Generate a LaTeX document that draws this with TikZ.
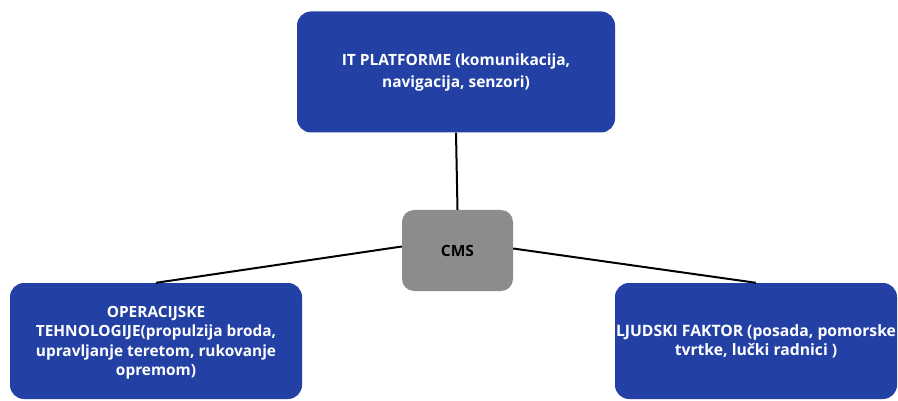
\documentclass[tikz,border=0pt]{standalone}
\usepackage{fontspec}
\setmainfont{Open Sans}
\definecolor{boxblue}{HTML}{2341A5}
\definecolor{boxgray}{HTML}{8C8C8C}
\begin{document}
\begin{tikzpicture}[x=1pt,y=-1pt,
  bluebox/.style={draw=none,fill=boxblue,rounded corners=14pt,text=white,
    font=\fontsize{15.4}{19.3}\selectfont\bfseries,align=center,inner sep=0pt},
  graybox/.style={draw=none,fill=boxgray,rounded corners=12pt,text=black,
    font=\fontsize{15.5}{19}\selectfont\bfseries,align=center,inner sep=0pt},
  link/.style={draw=black,line width=2pt}]
\useasboundingbox (0,0) rectangle (898,401);
\node[bluebox,minimum width=318pt,minimum height=121pt,font=\fontsize{15.5}{22}\selectfont\bfseries] (it) at (456,72)
  {IT PLATFORME (komunikacija,\\navigacija, senzori)};
\node[graybox,minimum width=111pt,minimum height=81pt] (cms) at (457.5,250.5) {CMS};
\node[bluebox,minimum width=292pt,minimum height=116pt,text depth=0pt] (op) at (156,341)
  {OPERACIJSKE\\TEHNOLOGIJE(propulzija broda,\\upravljanje teretom, rukovanje\\opremom)};
\node[bluebox,minimum width=282pt,minimum height=116pt,font=\fontsize{15.7}{19}\selectfont\bfseries] (lj) at (756,341)
  {LJUDSKI FAKTOR (posada, pomorske\\tvrtke, lučki radnici )};
\draw[link] (it.south) -- (cms.north);
\draw[link] ([yshift=4pt]cms.west) -- (op.north);
\draw[link] ([yshift=2pt]cms.east) -- (lj.north);
\end{tikzpicture}
\end{document}
